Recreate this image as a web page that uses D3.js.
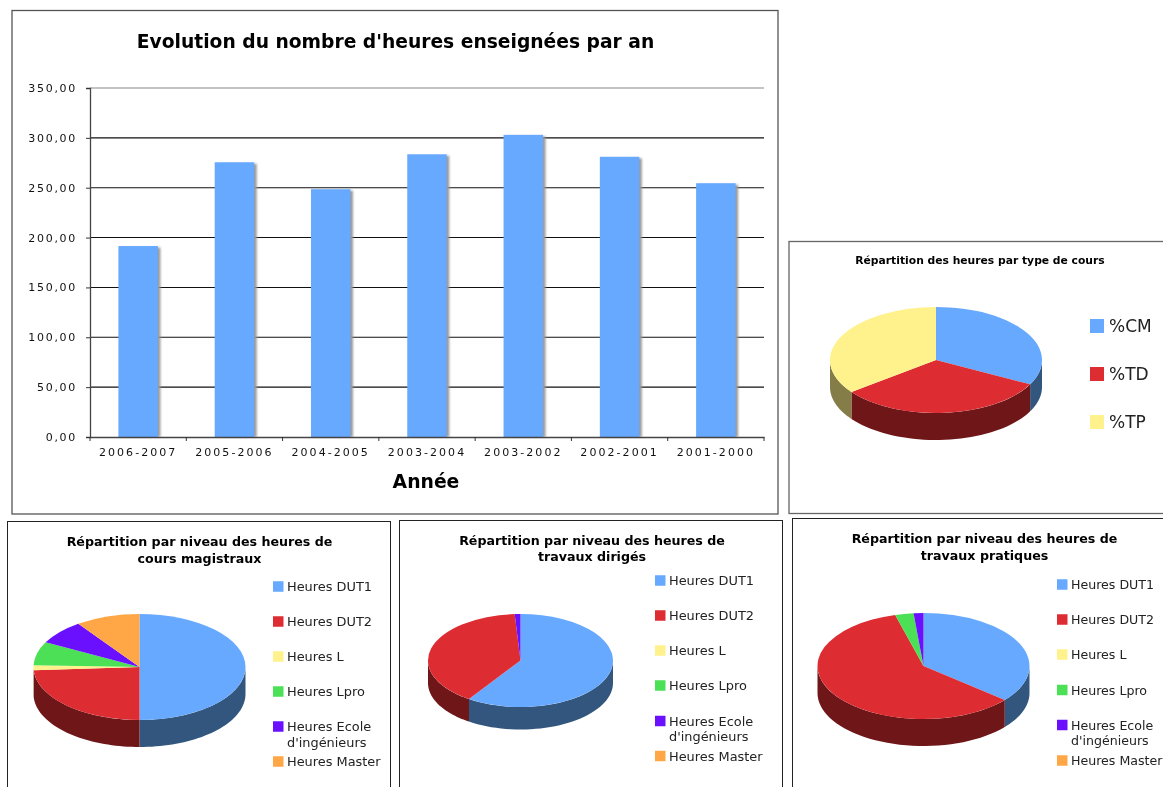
<!DOCTYPE html>
<html>
<head>
<meta charset="utf-8">
<script src="https://cdn.jsdelivr.net/npm/d3@7"></script>
<style>
html, body { margin: 0; padding: 0; background: #fff; overflow: hidden; }
svg { display: block; filter: blur(0.45px); }
text { font-family: "DejaVu Sans", sans-serif; fill: #000; }
.title { font-weight: bold; text-anchor: middle; }
</style>
</head>
<body>
<svg></svg>
<script>
var years = ['2006-2007', '2005-2006', '2004-2005', '2003-2004', '2003-2002', '2002-2001', '2001-2000'];
var hours = [191, 275, 248, 283, 302.5, 280.5, 254];
var yTicks = [0, 50, 100, 150, 200, 250, 300, 350];

var typeLabels = ['%CM', '%TD', '%TP'];
var typeValues = [32.6, 32.1, 35.3];

var levelLabels = ['Heures DUT1', 'Heures DUT2', 'Heures L', 'Heures Lpro', ['Heures Ecole', "d'ingénieurs"], 'Heures Master'];
var cmValues = [50, 24, 1.5, 7.2, 7.5, 9.8];
var tdValues = [59.4, 39.6, 0, 0, 1, 0];
var tpValues = [36.1, 59.6, 0, 2.8, 1.5, 0];

var topColors = ['#66a9ff', '#dd2d33', '#fff28c', '#4ce056', '#6a10ff', '#ffa646'];
var sideColors = ['#33567f', '#6e1618', '#857d47', '#267030', '#350880', '#805323'];

var svg = d3.select('svg').attr('width', 1163).attr('height', 787);
svg.append('rect').attr('width', 1163).attr('height', 787).attr('fill', '#fff');

var defs = svg.append('defs');
defs.append('filter').attr('id', 'soft')
	.append('feGaussianBlur').attr('stdDeviation', 0.8);

var frame = function (x, y, w, h, color, sw) {
	svg.append('rect')
		.attr('x', x).attr('y', y).attr('width', w).attr('height', h)
		.attr('fill', 'none').attr('stroke', color).attr('stroke-width', sw);
};

/* bar chart */
frame(12, 10.5, 766, 503.5, '#555', 1.3);
frame(789, 241.5, 500, 272, '#666', 1.3);

svg.append('text').attr('class', 'title')
	.attr('x', 395.5).attr('y', 48).style('font-size', '18.7px')
	.text("Evolution du nombre d'heures enseignées par an");

var x = d3.scaleBand().domain(years).range([90, 764]).paddingInner(0.59).paddingOuter(0.295);
var y = d3.scaleLinear().domain([0, 350]).range([436.5, 87.5]);

var grid = svg.append('g');
grid.selectAll('line').data(yTicks.filter(function (d) { return d > 0; }))
	.enter().append('line')
	.attr('x1', 90).attr('x2', 764)
	.attr('y1', function (d) { return y(d) + 0.5; })
	.attr('y2', function (d) { return y(d) + 0.5; })
	.attr('stroke', function (d) { return d === 350 ? '#888' : '#111'; })
	.attr('stroke-width', 1.1);

svg.append('g').selectAll('rect').data(hours)
	.enter().append('rect')
	.attr('x', function (d, i) { return x(years[i]) + 2.5; })
	.attr('y', function (d) { return y(d) + 1.5; })
	.attr('width', x.bandwidth())
	.attr('height', function (d) { return 437 - y(d) - 1.5; })
	.attr('fill', '#999')
	.attr('filter', 'url(#soft)');

svg.append('g').selectAll('rect').data(hours)
	.enter().append('rect')
	.attr('x', function (d, i) { return x(years[i]); })
	.attr('y', function (d) { return y(d); })
	.attr('width', x.bandwidth())
	.attr('height', function (d) { return 437 - y(d); })
	.attr('fill', topColors[0]);

var yAxis = svg.append('g').attr('transform', 'translate(90,0.5)')
	.call(d3.axisLeft(y).tickValues(yTicks).tickSize(4).tickPadding(9)
		.tickFormat(function (d) { return d3.format('.2f')(d).replace('.', ','); }));
var xAxis = svg.append('g').attr('transform', 'translate(0,437)')
	.call(d3.axisBottom(x).tickSize(0).tickPadding(11));

xAxis.selectAll('.domain').attr('stroke', '#444').attr('stroke-width', 1.3);
yAxis.selectAll('.domain').attr('stroke', '#444').attr('stroke-width', 1.3);
yAxis.selectAll('line').attr('stroke', '#333');
[yAxis, xAxis].forEach(function (a) {
	a.selectAll('text')
		.style('font-family', '"DejaVu Sans", sans-serif')
		.style('font-size', '11px')
		.style('letter-spacing', '2.05px')
		.style('fill', '#111');
});
yAxis.selectAll('text').style('letter-spacing', '1.7px');

// ticks sit between the bars, at the band limits
svg.append('g').selectAll('line').data(d3.range(years.length + 1))
	.enter().append('line')
	.attr('x1', function (d) { return 90 + d * x.step(); })
	.attr('x2', function (d) { return 90 + d * x.step(); })
	.attr('y1', 437).attr('y2', 441)
	.attr('stroke', '#333');

svg.append('text').attr('class', 'title')
	.attr('x', 426).attr('y', 488).style('font-size', '18.8px')
	.text('Année');

/* 3d pies */
var pie = d3.pie().sort(null).value(function (d) { return d; });

var drawPie = function (values, cx, cy, rx, ry, depth) {
	var g = svg.append('g').attr('transform', 'translate(' + cx + ',' + cy + ')');
	var slices = pie(values);
	var side = d3.line();

	slices.forEach(function (s, i) {
		var a0 = Math.max(s.startAngle, Math.PI / 2),
			a1 = Math.min(s.endAngle, Math.PI * 1.5);
		if (a1 <= a0) return;
		var angles = d3.range(0, 41).map(function (k) { return a0 + (a1 - a0) * k / 40; });
		var upper = angles.map(function (a) { return [rx * Math.sin(a), -ry * Math.cos(a)]; });
		var lower = upper.map(function (p) { return [p[0], p[1] + depth]; }).reverse();
		g.append('path')
			.attr('d', side(upper.concat(lower)) + 'Z')
			.attr('fill', sideColors[i]);
	});

	var arc = d3.arc().innerRadius(0).outerRadius(rx);
	g.append('g').attr('transform', 'scale(1,' + (ry / rx) + ')')
		.selectAll('path').data(slices)
		.enter().append('path')
		.attr('d', arc)
		.attr('fill', function (d, i) { return topColors[i]; });
};

var drawLegend = function (labels, swatchX, textX, rows, size, fontSize) {
	var row = svg.append('g').selectAll('g').data(labels).enter().append('g')
		.attr('transform', function (d, i) { return 'translate(0,' + rows[i] + ')'; });
	row.append('rect')
		.attr('x', swatchX).attr('y', -size / 2)
		.attr('width', size).attr('height', size)
		.attr('fill', function (d, i) { return topColors[i]; });
	row.append('text')
		.attr('x', textX).attr('y', fontSize * 0.36)
		.style('font-size', fontSize + 'px')
		.style('fill', '#222')
		.selectAll('tspan').data(function (d) { return [].concat(d); })
		.enter().append('tspan')
		.attr('x', textX)
		.attr('dy', function (d, i) { return i ? 15.5 : 0; })
		.text(function (d) { return d; });
};

var pieTitle = function (lines, cx, y0, fontSize) {
	svg.append('g').selectAll('text').data(lines).enter().append('text')
		.attr('class', 'title')
		.attr('x', cx).attr('y', function (d, i) { return y0 + i * 16.5; })
		.style('font-size', fontSize + 'px')
		.text(function (d) { return d; });
};

pieTitle(['Répartition des heures par type de cours'], 980, 264, 10.75);
drawPie(typeValues, 936, 360, 106, 53, 27);
drawLegend(typeLabels, 1090, 1109, [326, 374, 422], 14, 17);

frame(7.5, 521.5, 383, 300, '#222', 1);
pieTitle(['Répartition par niveau des heures de', 'cours magistraux'], 199.5, 546, 12.65);
drawPie(cmValues, 139.5, 667, 106, 53, 27);
drawLegend(levelLabels, 273, 287, [586.5, 621.5, 656.5, 691.5, 726.5, 761.5], 10.5, 12.9);

frame(399.5, 520.5, 383, 300, '#222', 1);
pieTitle(['Répartition par niveau des heures de', 'travaux dirigés'], 592, 544.5, 12.65);
drawPie(tdValues, 520.5, 660.5, 92.5, 46.5, 22.5);
drawLegend(levelLabels, 655, 669, [580.5, 615.5, 650.5, 685.5, 721, 756], 10.5, 12.9);

frame(792.5, 518.5, 500, 300, '#222', 1);
pieTitle(['Répartition par niveau des heures de', 'travaux pratiques'], 984.5, 543, 12.65);
drawPie(tpValues, 923.5, 666, 106, 53, 27);
drawLegend(levelLabels, 1057, 1071, [584.5, 619.5, 654.5, 690, 725, 760.5], 10.5, 12.6);
</script>
</body>
</html>
